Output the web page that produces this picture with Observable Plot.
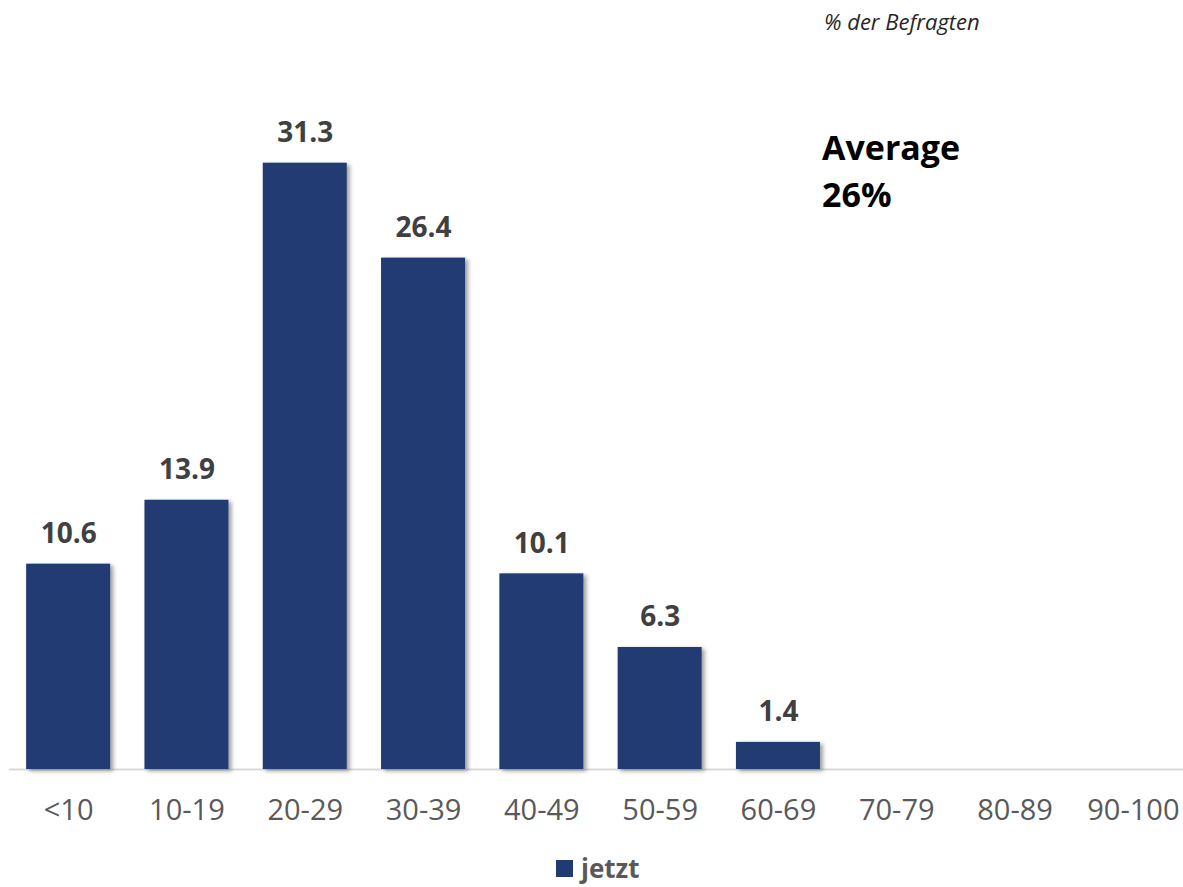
<!DOCTYPE html>
<html>
<head>
<meta charset="utf-8">
<script src="https://cdn.jsdelivr.net/npm/d3@7"></script>
<script src="https://cdn.jsdelivr.net/npm/@observablehq/plot@0.6"></script>
<style>
  html, body { margin: 0; padding: 0; background: #fff; }
  body { font-family: "Open Sans", sans-serif; }
  #wrap { position: relative; width: 1183px; height: 887px; overflow: hidden; }
  #wrap svg { position: absolute; left: 0; top: 0; overflow: visible; }
  .note { position: absolute; white-space: nowrap; }
  #unit { left: 824px; top: 6px; font-size: 22px; font-style: italic; color: #262626; }
  #avg { left: 822px; top: 124px; font-size: 34px; font-weight: 700; line-height: 47px; color: #000; }
  #legend { left: 556px; top: 850px; font-size: 26px; font-weight: 700; color: #595959; display: flex; align-items: center; }
  #legend .sw { width: 17px; height: 17px; background: #203a73; margin-right: 8px; }
</style>
</head>
<body>
<div id="wrap">
  <div class="note" id="unit">% der Befragten</div>
  <div class="note" id="avg">Average<br>26%</div>
  <div class="note" id="legend"><span class="sw"></span>jetzt</div>
</div>
<script>
// Share of respondents by range
const categories = ["<10", "10-19", "20-29", "30-39", "40-49", "50-59", "60-69", "70-79", "80-89", "90-100"];
const values = [10.6, 13.9, 31.3, 26.4, 10.1, 6.3, 1.4, null, null, null];
const seriesName = "jetzt";

const data = categories.map((c, i) => ({category: c, value: values[i], series: seriesName}));
const shown = data.filter(d => d.value != null);

const barColor = "#203a73";

const chart = Plot.plot({
  width: 1183,
  height: 887,
  marginLeft: 9,
  marginRight: -9,
  marginTop: 91,
  marginBottom: 118,
  style: {fontFamily: "Open Sans, sans-serif", background: "transparent", overflow: "visible"},
  x: {domain: categories, paddingInner: 0.29, paddingOuter: 0.145, round: false, label: null},
  y: {domain: [0, 35], axis: null},
  marks: [
    Plot.ruleY([0], {stroke: "#d9d9d9", strokeWidth: 2}),
    Plot.barY(shown, {x: "category", y: "value", fill: barColor}),
    Plot.text(shown, {
      x: "category", y: "value", text: d => d.value.toFixed(1),
      dy: -21, lineAnchor: "bottom", textAnchor: "middle",
      fontSize: 28, fontWeight: 700, fill: "#404040"
    }),
    Plot.axisX({tickSize: 0, tickPadding: 30, fontSize: 29, fill: "#595959", label: null})
  ]
});

// soft drop shadow under the bars
const svg = d3.select(chart);
const defs = svg.insert("defs", ":first-child");
defs.append("filter")
  .attr("id", "barShadow")
  .attr("x", "-20%").attr("y", "-20%").attr("width", "140%").attr("height", "140%")
  .append("feDropShadow")
  .attr("dx", 3).attr("dy", 2).attr("stdDeviation", 2)
  .attr("flood-color", "#000").attr("flood-opacity", 0.38);
svg.selectAll("g[aria-label='bar']").attr("filter", "url(#barShadow)");

document.getElementById("wrap").prepend(chart);
</script>
</body>
</html>
